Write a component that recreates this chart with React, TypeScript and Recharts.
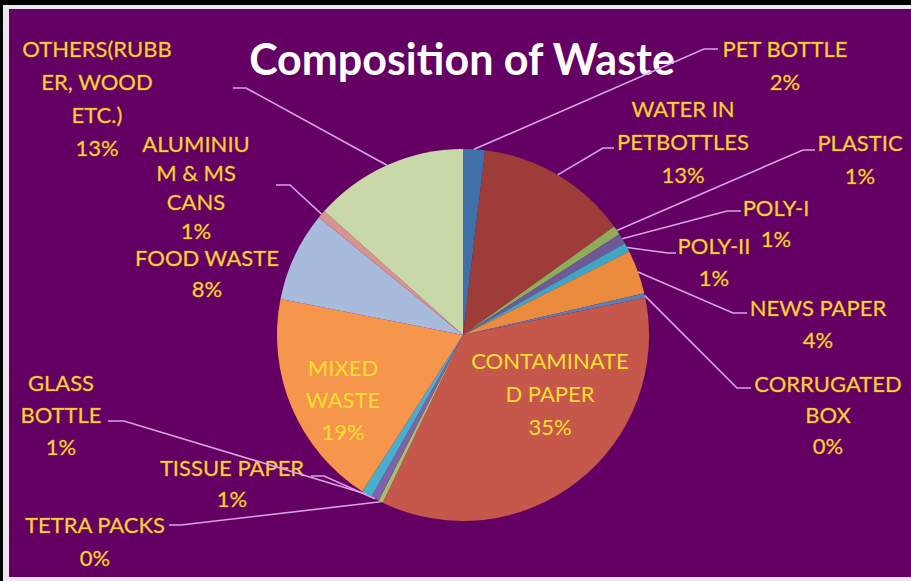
import React from 'react'
import { PieChart, Pie, Cell } from 'recharts'

// slices, clockwise from 12 o'clock
const categories = [
  'PET BOTTLE',
  'WATER IN PETBOTTLES',
  'PLASTIC',
  'POLY-I',
  'POLY-II',
  'NEWS PAPER',
  'CORRUGATED BOX',
  'CONTAMINATED PAPER',
  'TETRA PACKS',
  'TISSUE PAPER',
  'GLASS BOTTLE',
  'MIXED WASTE',
  'FOOD WASTE',
  'ALUMINIUM & MS CANS',
  'OTHERS(RUBBER, WOOD ETC.)',
]

// share of waste, %
const shares = [1.9, 13.2, 0.8, 0.9, 0.8, 3.8, 0.4, 35.3, 0.4, 0.7, 0.9, 19.0, 7.8, 0.7, 13.4]

// how each name wraps in its label box
const wrappedNames = [
  ['PET BOTTLE'],
  ['WATER IN', 'PETBOTTLES'],
  ['PLASTIC'],
  ['POLY-I'],
  ['POLY-II'],
  ['NEWS PAPER'],
  ['CORRUGATED', 'BOX'],
  ['CONTAMINATE', 'D PAPER'],
  ['TETRA PACKS'],
  ['TISSUE PAPER'],
  ['GLASS', 'BOTTLE'],
  ['MIXED', 'WASTE'],
  ['FOOD WASTE'],
  ['ALUMINIU', 'M & MS', 'CANS'],
  ['OTHERS(RUBB', 'ER, WOOD', 'ETC.)'],
]

const COLORS = [
  '#3f70a8', '#9d3c39', '#8fac58', '#6f5a98', '#3ea6c2', '#ea8b3e', '#5b80b6',
  '#c5584a', '#a9bd6a', '#7c64a6', '#48afcc', '#f6964c', '#a9bbdc', '#d9948f', '#c9d8a9',
]

const W = 911
const H = 581
const CX = 463
const CY = 335
const R = 186

// label placement: text centre x, first line y, line gap, leader bend + end (no bend = no leader)
const LABEL_POS: { x: number; y: number; gap: number; bend?: [number, number]; endX?: number; inside?: boolean }[] = [
  { x: 785, y: 48, gap: 33, bend: [704, 49], endX: 718 },
  { x: 683, y: 108, gap: 33, bend: [603, 148], endX: 614 },
  { x: 860, y: 142, gap: 33, bend: [803, 150], endX: 815 },
  { x: 776, y: 207, gap: 31, bend: [727, 211], endX: 741 },
  { x: 714, y: 245, gap: 32, bend: [668, 253], endX: 676 },
  { x: 818, y: 307, gap: 32, bend: [733, 313], endX: 747 },
  { x: 828, y: 383, gap: 31, bend: [737, 388], endX: 751 },
  { x: 550, y: 360, gap: 33, inside: true },
  { x: 95, y: 524, gap: 33, bend: [181, 525], endX: 169 },
  { x: 232, y: 467, gap: 31, bend: [324, 476], endX: 311 },
  { x: 61, y: 382, gap: 32, bend: [124, 421], endX: 108 },
  { x: 343, y: 367, gap: 32, inside: true },
  { x: 207, y: 257, gap: 31 },
  { x: 196, y: 143, gap: 29, bend: [290, 185], endX: 276 },
  { x: 97, y: 48, gap: 33, bend: [246, 88], endX: 233 },
]

const data = categories.map((name, i) => ({ name, value: shares[i] }))
const total = shares.reduce((s, v) => s + v, 0)

const RAD = Math.PI / 180

function renderLabel(props: any) {
  const { index, midAngle, cx, cy, outerRadius } = props
  const pos = LABEL_POS[index]
  const pct = Math.round((shares[index] / total) * 100) + '%'
  const lines = [...wrappedNames[index], pct]
  const sx = cx + outerRadius * Math.cos(-midAngle * RAD)
  const sy = cy + outerRadius * Math.sin(-midAngle * RAD)
  return (
    <g key={`lbl-${index}`}>
      {pos.bend && (
        <polyline
          points={`${sx},${sy} ${pos.bend[0]},${pos.bend[1]} ${pos.endX},${pos.bend[1]}`}
          fill="none"
          stroke="#d9a3e3"
          strokeWidth={1.6}
        />
      )}
      {lines.map((t, k) => (
        <text
          key={k}
          x={pos.x}
          y={pos.y + k * pos.gap}
          textAnchor="middle"
          dominantBaseline="central"
          fill={pos.inside ? '#ffdf33' : '#fbcf45'}
          fontFamily="Lato, 'Open Sans', sans-serif"
          fontSize={22}
          style={{ paintOrder: 'stroke' }}
          stroke={pos.inside ? 'none' : '#8a3d2a'}
          strokeWidth={pos.inside ? 0 : 1}
        >
          {t}
        </text>
      ))}
    </g>
  )
}

export default function App() {
  return (
    <div style={{ position: 'absolute', left: 0, top: 0, width: W, height: H, background: '#000' }}>
      <div
        style={{
          position: 'absolute',
          left: 3,
          top: 5,
          width: W - 3,
          height: H - 4,
          background: '#f0e6f0',
        }}
      />
      <div
        style={{
          position: 'absolute',
          left: 9,
          top: 9,
          width: W - 9,
          height: 568,
          background: '#640064',
        }}
      />
      <div style={{ position: 'absolute', left: 0, top: 0 }}>
        <PieChart width={W} height={H} margin={{ top: 0, right: 0, bottom: 0, left: 0 }}>
          <text
            x={462}
            y={58}
            textAnchor="middle"
            dominantBaseline="central"
            fill="#ffffff"
            fontFamily="Lato, 'Open Sans', sans-serif"
            fontWeight="bold"
            fontSize={43}
          >
            Composition of Waste
          </text>
          <Pie
            data={data}
            dataKey="value"
            nameKey="name"
            cx={CX}
            cy={CY}
            outerRadius={R}
            startAngle={90}
            endAngle={-270}
            stroke="none"
            labelLine={false}
            label={renderLabel}
            isAnimationActive={false}
          >
            {data.map((d, i) => (
              <Cell key={`cell-${i}`} fill={COLORS[i]} />
            ))}
          </Pie>
        </PieChart>
      </div>
    </div>
  )
}
